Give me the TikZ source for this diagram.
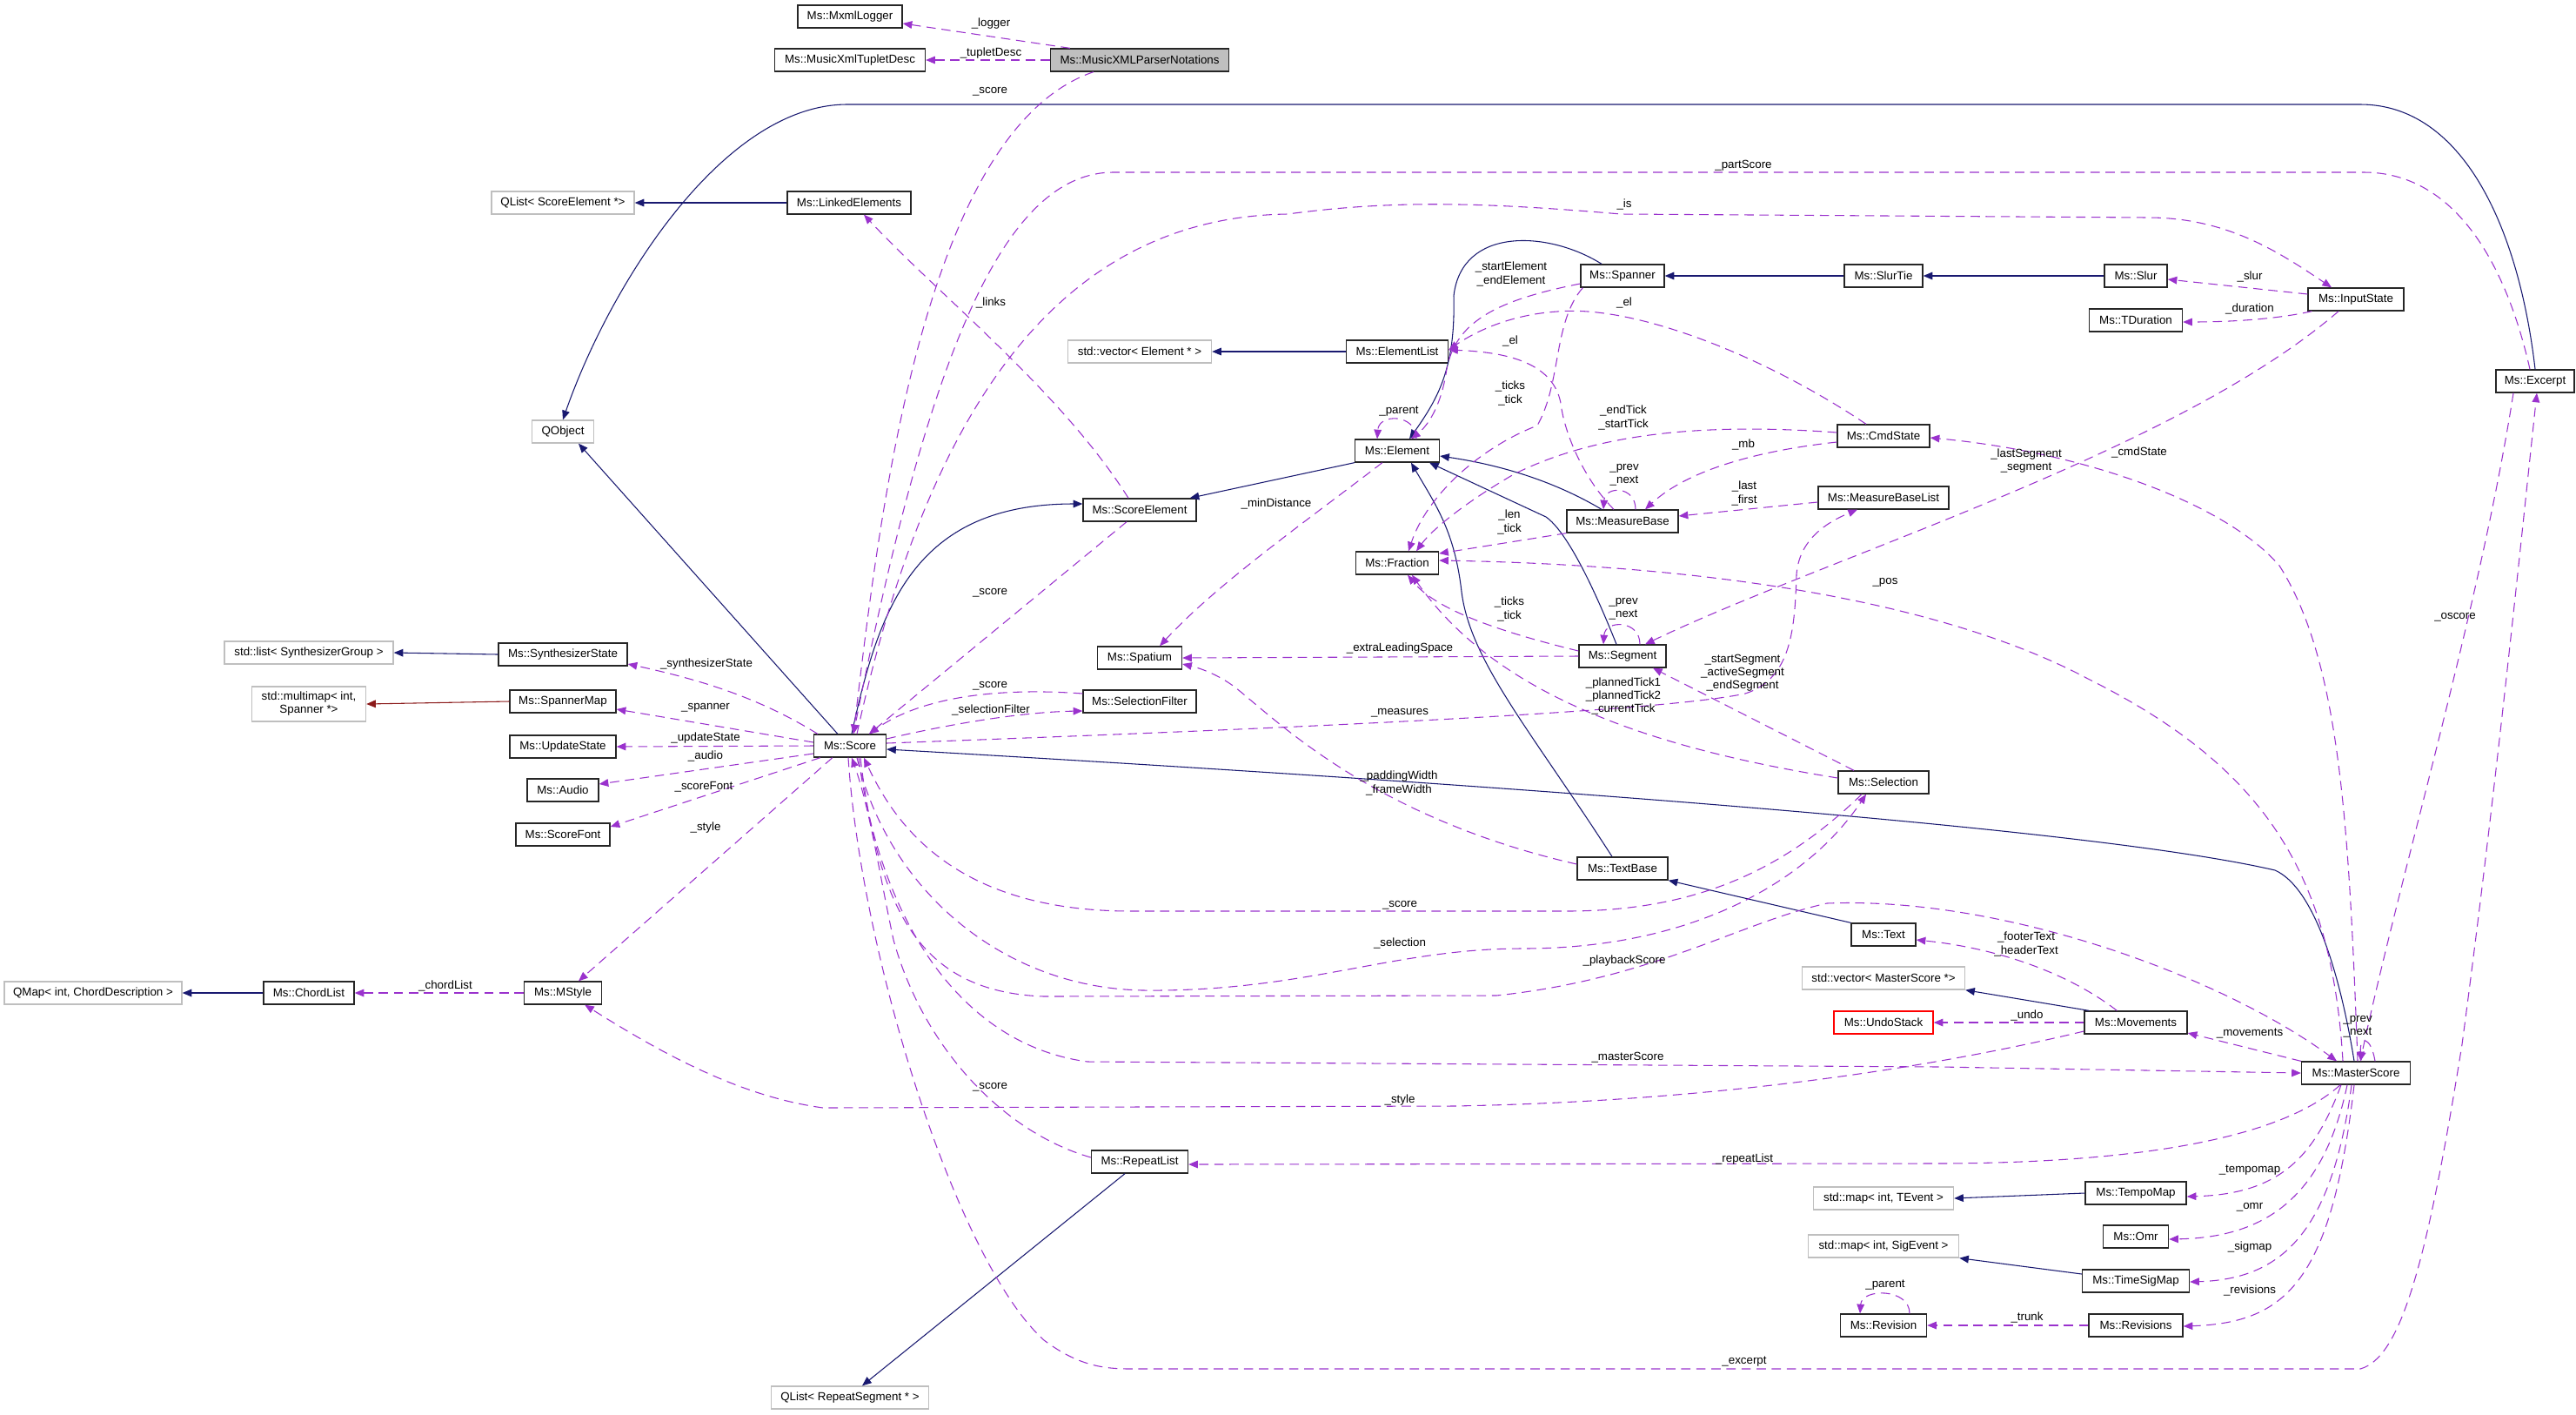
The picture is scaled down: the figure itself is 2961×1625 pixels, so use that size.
\documentclass[tikz,border=0pt]{standalone}
\usepackage{fontspec}
\setmainfont{Liberation Sans}
\usetikzlibrary{arrows.meta,calc}
\definecolor{inhc}{HTML}{191970}
\definecolor{usec}{HTML}{9A32CD}
\definecolor{tmplc}{HTML}{8B1A1A}
\definecolor{grayb}{HTML}{BFBFBF}
\newcommand\dxfont{\fontsize{10pt}{11.3pt}\selectfont}
\tikzset{
  box/.style={draw=black!85, line width=1pt, minimum height=19.5pt, inner sep=0pt, font=\dxfont, fill=white, align=center},
  ext/.style={box, draw=grayb},
  bw/.style={minimum width=#1*0.75pt},
  tipx/.style={-{Triangle[length=8pt,width=6.5pt]}},
  inh/.style={draw=inhc, line width=0.8pt, tipx},
  tmpl/.style={draw=tmplc, line width=0.8pt, tipx},
  use/.style={draw=usec, line width=0.8pt, dash pattern=on 8pt off 5pt, tipx},
  lab/.style={font=\dxfont, align=center, inner sep=0pt},
}
\begin{document}
\begin{tikzpicture}[x=0.75pt,y=-0.75pt]
\useasboundingbox (0,0) rectangle (2961,1625);
% ---------------- nodes ----------------
\node[box,bw=205,fill=grayb] (parser) at (1310,69) {Ms::MusicXMLParserNotations};
\node[box,bw=120] (mxml) at (977,19) {Ms::MxmlLogger};
\node[box,bw=173] (tuplet) at (977,69) {Ms::MusicXmlTupletDesc};
\node[ext,bw=164] (qlistse) at (647,233) {QList< ScoreElement *>};
\node[box,bw=142] (linked) at (976,233) {Ms::LinkedElements};
\node[ext,bw=71] (qobject) at (647,496) {QObject};
\node[ext,bw=165] (vecel) at (1310,404) {std::vector< Element * >};
\node[box,bw=96] (spanner) at (1865,317) {Ms::Spanner};
\node[box,bw=90] (slurtie) at (2165,317) {Ms::SlurTie};
\node[box,bw=72] (slur) at (2455,317) {Ms::Slur};
\node[box,bw=107] (tdur) at (2455,368) {Ms::TDuration};
\node[box,bw=110] (inputst) at (2708,344) {Ms::InputState};
\node[box,bw=90] (excerpt) at (2914,438) {Ms::Excerpt};
\node[box,bw=117] (elist) at (1606,404) {Ms::ElementList};
\node[box,bw=97] (element) at (1606,518) {Ms::Element};
\node[box,bw=106] (cmdstate) at (2165,501) {Ms::CmdState};
\node[box,bw=150] (mblist) at (2165,572) {Ms::MeasureBaseList};
\node[box,bw=128] (mbase) at (1865,599) {Ms::MeasureBase};
\node[box,bw=95] (fraction) at (1606,647) {Ms::Fraction};
\node[box,bw=130] (scoreel) at (1310,586) {Ms::ScoreElement};
\node[box,bw=97] (spatium) at (1310,756) {Ms::Spatium};
\node[box,bw=130] (selfilter) at (1310,806) {Ms::SelectionFilter};
\node[box,bw=100] (segment) at (1865,754) {Ms::Segment};
\node[box,bw=104] (selection) at (2165,899) {Ms::Selection};
\node[box,bw=104] (textbase) at (1865,998) {Ms::TextBase};
\node[box,bw=74] (text) at (2165,1074) {Ms::Text};
\node[box,bw=83] (score) at (977,857) {Ms::Score};
\node[ext,bw=194] (stdlist) at (355,750) {std::list< SynthesizerGroup >};
\node[box,bw=148] (synth) at (647,752) {Ms::SynthesizerState};
\node[ext,bw=131,minimum height=30pt] (multimap) at (355,809) {std::multimap< int,\\ Spanner *>};
\node[box,bw=122] (spmap) at (647,806) {Ms::SpannerMap};
\node[box,bw=122] (updst) at (647,858) {Ms::UpdateState};
\node[box,bw=82] (audio) at (647,908) {Ms::Audio};
\node[box,bw=108] (sfont) at (647,959) {Ms::ScoreFont};
\node[ext,bw=204] (qmap) at (107,1141) {QMap< int, ChordDescription >};
\node[box,bw=104] (chordlist) at (355,1141) {Ms::ChordList};
\node[box,bw=89] (mstyle) at (647,1141) {Ms::MStyle};
\node[ext,bw=187] (vecms) at (2165,1124) {std::vector< MasterScore *>};
\node[box,bw=114,draw=red] (undo) at (2165,1175) {Ms::UndoStack};
\node[box,bw=118] (movements) at (2455,1175) {Ms::Movements};
\node[box,bw=125] (master) at (2708,1233) {Ms::MasterScore};
\node[box,bw=111] (repeatlist) at (1310,1335) {Ms::RepeatList};
\node[ext,bw=181] (qlistrs) at (977,1606) {QList< RepeatSegment * >};
\node[ext,bw=161] (mapte) at (2165,1377) {std::map< int, TEvent >};
\node[box,bw=116] (tempomap) at (2455,1371) {Ms::TempoMap};
\node[box,bw=75] (omr) at (2455,1421) {Ms::Omr};
\node[ext,bw=173] (mapsig) at (2165,1432) {std::map< int, SigEvent >};
\node[box,bw=123] (timesig) at (2455,1472) {Ms::TimeSigMap};
\node[box,bw=99] (revision) at (2165,1523) {Ms::Revision};
\node[box,bw=108] (revisions) at (2455,1523) {Ms::Revisions};
% ---------------- inheritance ----------------
\draw[inh] (excerpt.north) .. controls (2895,260) and (2830,120) .. (2713,120) -- (974,120) .. controls (830,120) and (700,330) .. (qobject.north);
\draw[inh] (linked.west) -- (qlistse.east);
\draw[inh] ($(score.north west)+(28,0)$) -- ($(qobject.south)+(18,0)$);
\draw[inh] ($(score.north)+(2,0)$) .. controls (1010,700) and (1050,579) .. ($(scoreel.west)+(0,-7)$);
\draw[inh] (element.south west) -- ($(scoreel.north east)+(-8,0)$);
\draw[inh] ($(spanner.north)+(-24,0)$) .. controls (1780,265) and (1680,260) .. (1671,340) .. controls (1673,420) and (1655,455) .. ($(element.north)+(14,0)$);
\draw[inh] (slurtie.west) -- (spanner.east);
\draw[inh] (slur.west) -- (slurtie.east);
\draw[inh] (elist.west) -- (vecel.east);
\draw[inh] ($(mbase.north)+(-24,0)$) .. controls (1790,555) and (1730,535) .. ($(element.east)+(0,6)$);
\draw[inh] ($(segment.north)+(-7,0)$) .. controls (1830,670) and (1800,610) .. (1777,594) -- ($(element.south)+(37,0)$);
\draw[inh] ($(textbase.north)+(-12,0)$) .. controls (1760,840) and (1690,760) .. (1680,680) .. controls (1672,610) and (1650,580) .. ($(element.south)+(16,0)$);
\draw[inh] (text.north west) -- (textbase.south east);
\draw[inh] ($(master.north)+(-2,0)$) .. controls (2690,1120) and (2660,1020) .. (2615,1000) .. controls (2400,950) and (1700,900) .. ($(score.east)+(0,4)$);
\draw[inh] ($(movements.north west)+(6,0)$) -- (vecms.south east);
\draw[inh] (tempomap.west) -- (mapte.east);
\draw[inh] ($(timesig.west)+(0,-8)$) -- (mapsig.south east);
\draw[inh] ($(repeatlist.south)+(-17,0)$) -- ($(qlistrs.north)+(14,0)$);
\draw[inh] (synth.west) -- (stdlist.east);
\draw[tmpl] (spmap.west) -- (multimap.east);
\draw[inh] (chordlist.west) -- (qmap.east);
% ---------------- usage ----------------
\draw[use] ($(parser.north west)+(23,0)$) -- ($(mxml.east)+(0,8)$);
\draw[use] (parser.west) -- (tuplet.east);
\draw[use] ($(parser.south west)+(50,0)$) .. controls (1060,150) and (1010,600) .. ($(score.north)+(4,0)$);
\draw[use] ($(excerpt.north)+(-6,0)$) .. controls (2880,300) and (2820,198) .. (2717,198) -- (1280,198) .. controls (1150,198) and (1065,420) .. ($(score.north)+(4,0)$);
\draw[use] ($(score.north)+(8,0)$) .. controls (1060,500) and (1200,250) .. (1480,246) .. controls (1600,230) and (1700,232) .. (1863,246) -- (2469,250) .. controls (2560,250) and (2620,290) .. ($(inputst.north)+(-28,0)$);
\draw[use] ($(scoreel.north)+(-13,0)$) .. controls (1220,450) and (1080,340) .. ($(linked.south)+(17,0)$);
\draw[use] ($(scoreel.south)+(-15,0)$) -- ($(score.north)+(22,0)$);
\draw[use] ($(element.south west)+(32,0)$) .. controls (1500,600) and (1400,670) .. ($(spatium.north)+(23,0)$);
\draw[use] ($(element.north)+(22,0)$) .. controls (1628,475) and (1585,475) .. ($(element.north)+(-23,0)$);
\draw[use] ($(spanner.west)+(0,9)$) .. controls (1720,345) and (1670,370) .. (1662,430) .. controls (1655,470) and (1640,490) .. ($(element.north)+(16,0)$);
\draw[use] ($(spanner.south west)+(3,0)$) .. controls (1785,370) and (1795,440) .. (1767,489) .. controls (1700,515) and (1640,570) .. ($(fraction.north)+(13,0)$);
\draw[use] ($(cmdstate.west)+(0,-4)$) .. controls (1950,485) and (1830,500) .. (1740,545) .. controls (1680,580) and (1645,610) .. ($(fraction.north)+(22,0)$);
\draw[use] ($(cmdstate.north)+(-20,0)$) .. controls (2030,410) and (1880,350) .. (1790,358) .. controls (1730,362) and (1690,385) .. ($(elist.east)+(0,-2)$);
\draw[use] ($(mbase.north)+(-10,0)$) .. controls (1820,550) and (1800,500) .. (1795,470) .. controls (1790,420) and (1740,405) .. ($(elist.east)+(0,-2)$);
\draw[use] ($(cmdstate.west)+(0,7)$) .. controls (2020,518) and (1940,540) .. ($(mbase.north)+(26,0)$);
\draw[use] ($(mbase.north)+(15,0)$) .. controls (1880,558) and (1845,558) .. ($(mbase.north)+(-22,0)$);
\draw[use] ($(mblist.west)+(0,5)$) -- ($(mbase.east)+(0,-6)$);
\draw[use] (mbase.south west) -- ($(fraction.east)+(0,-11)$);
\draw[use] ($(segment.west)+(0,-6)$) .. controls (1720,725) and (1650,700) .. ($(fraction.south)+(12,0)$);
\draw[use] ($(segment.north)+(20,0)$) .. controls (1885,712) and (1845,712) .. ($(segment.north)+(-22,0)$);
\draw[use] ($(inputst.south)+(-20,0)$) .. controls (2500,520) and (2100,640) .. ($(segment.north)+(26,0)$);
\draw[use] ($(master.north)+(2,0)$) .. controls (2700,950) and (2690,760) .. (2620,650) .. controls (2560,580) and (2400,520) .. ($(cmdstate.east)+(0,2)$);
\draw[use] ($(master.north)+(-15,0)$) .. controls (2680,1000) and (2600,880) .. (2400,780) .. controls (2250,700) and (2000,650) .. ($(fraction.east)+(0,-3)$);
\draw[use] ($(inputst.west)+(0,-6)$) -- ($(slur.east)+(0,4)$);
\draw[use] ($(inputst.south west)+(5,0)$) .. controls (2620,366) and (2570,370) .. ($(tdur.east)+(0,2)$);
\draw[use] ($(score.east)+(0,-3)$) .. controls (1400,840) and (1900,820) .. (2006,797) .. controls (2060,780) and (2063,720) .. (2065,660) .. controls (2068,620) and (2100,600) .. ($(mblist.south)+(-30,0)$);
\draw[use] (segment.west) -- (spatium.east);
\draw[use] ($(textbase.west)+(0,-5)$) .. controls (1580,940) and (1470,830) .. (1420,790) .. controls (1400,775) and (1380,768) .. ($(spatium.east)+(0,7)$);
\draw[use] ($(selection.north)+(-34,0)$) -- ($(segment.south)+(35,0)$);
\draw[use] ($(selection.west)+(0,-5)$) .. controls (1900,860) and (1720,800) .. ($(fraction.south)+(17,0)$);
\draw[use] ($(selection.south)+(-25,0)$) .. controls (2050,1000) and (1950,1047) .. (1800,1047) -- (1300,1047) .. controls (1100,1047) and (1030,950) .. ($(score.south)+(16,0)$);
\draw[use] ($(score.south)+(8,0)$) .. controls (1020,1020) and (1150,1135) .. (1314,1138) .. controls (1500,1140) and (1600,1090) .. (1750,1090) .. controls (1950,1090) and (2080,1010) .. ($(selection.south)+(-20,0)$);
\draw[use] ($(score.south)+(-2,0)$) .. controls (990,1100) and (1100,1450) .. (1200,1540) .. controls (1240,1570) and (1270,1573) .. (1300,1573) -- (2713,1573) .. controls (2760,1560) and (2790,1450) .. (2830,1200) .. controls (2870,900) and (2900,600) .. ($(excerpt.south)+(2,0)$);
\draw[use] ($(repeatlist.west)+(0,-5)$) .. controls (1150,1300) and (1060,1200) .. (1027,1080) .. controls (1010,1000) and (1000,930) .. ($(score.south)+(2,0)$);
\draw[use] ($(score.south)+(10,0)$) .. controls (1010,1050) and (1100,1200) .. (1250,1220) -- (2230,1226) -- (master.west);
\draw[use] ($(score.south)+(12,0)$) .. controls (1010,1050) and (1060,1140) .. (1200,1145) -- (1720,1144) .. controls (1900,1125) and (2000,1060) .. (2100,1038) .. controls (2300,1030) and (2550,1120) .. ($(master.north)+(-22,0)$);
\draw[use] ($(movements.west)+(0,10)$) .. controls (2250,1220) and (2000,1265) .. (1671,1271) -- (946,1273) .. controls (850,1260) and (760,1210) .. ($(mstyle.south east)+(-20,0)$);
\draw[use] ($(score.south west)+(22,0)$) -- ($(mstyle.north)+(18,0)$);
\draw[use] ($(master.south)+(-18,0)$) .. controls (2620,1310) and (2450,1337) .. (2220,1337) -- ($(repeatlist.east)+(0,3)$);
\draw[use] ($(master.south)+(-17,0)$) .. controls (2660,1330) and (2620,1372) .. ($(tempomap.east)+(0,4)$);
\draw[use] ($(master.south)+(-10,0)$) .. controls (2670,1380) and (2600,1422) .. ($(omr.east)+(0,3)$);
\draw[use] ($(master.south)+(-5,0)$) .. controls (2680,1420) and (2620,1470) .. ($(timesig.east)+(0,1)$);
\draw[use] ($(master.south)+(-2,0)$) .. controls (2680,1470) and (2630,1520) .. ($(revisions.east)+(0,1)$);
\draw[use] (master.north west) -- ($(movements.east)+(0,12)$);
\draw[use] (movements.west) -- (undo.east);
\draw[use] (revisions.west) -- (revision.east);
\draw[use] ($(revision.north)+(30,0)$) .. controls (2195,1480) and (2140,1480) .. ($(revision.north)+(-27,0)$);
\draw[use] ($(master.north)+(22,0)$) .. controls (2725,1190) and (2712,1190) .. ($(master.north)+(6,0)$);
\draw[use] ($(excerpt.south)+(-25,0)$) .. controls (2850,700) and (2760,1000) .. ($(master.north)+(5,0)$);
\draw[use] ($(movements.north west)+(38,0)$) .. controls (2380,1120) and (2300,1090) .. ($(text.east)+(0,6)$);
\draw[use] ($(score.north west)+(5,0)$) .. controls (870,800) and (800,780) .. ($(synth.east)+(0,11)$);
\draw[use] ($(score.west)+(0,-4)$) -- ($(spmap.east)+(0,9)$);
\draw[use] (score.west) -- (updst.east);
\draw[use] ($(score.west)+(0,9)$) -- ($(audio.east)+(0,-7)$);
\draw[use] ($(score.south west)+(8,0)$) -- ($(sfont.east)+(0,-9)$);
\draw[use] (mstyle.west) -- (chordlist.east);
\draw[use] ($(score.east)+(0,-8)$) .. controls (1100,830) and (1180,818) .. ($(selfilter.west)+(0,11)$);
\draw[use] ($(selfilter.west)+(0,-9)$) .. controls (1150,790) and (1060,800) .. ($(score.north)+(22,0)$);
% ---------------- labels ----------------
\node[lab] (l1) at (1139,27) {\_logger};
\node[lab] (l2) at (1139,61) {\_tupletDesc};
\node[lab] (l3) at (1138,105) {\_score};
\node[lab] (l4) at (2004,190) {\_partScore};
\node[lab] (l5) at (1867,235) {\_is};
\node[lab] (l6) at (1139,348) {\_links};
\node[lab] (l7) at (1737,315) {\_startElement\\\_endElement};
\node[lab] (l8) at (1867,348) {\_el};
\node[lab] (l9) at (1736,392) {\_el};
\node[lab] (l10) at (1736,452) {\_ticks\\\_tick};
\node[lab] (l11) at (1608,473) {\_parent};
\node[lab] (l12) at (1866,480) {\_endTick\\\_startTick};
\node[lab] (l13) at (2004,511) {\_mb};
\node[lab] (l14) at (1867,546) {\_prev\\\_next};
\node[lab] (l15) at (2005,567) {\_last\\\_first};
\node[lab] (l16) at (1735,600) {\_len\\\_tick};
\node[lab] (l17) at (1467,579) {\_minDistance};
\node[lab] (l18) at (2586,318) {\_slur};
\node[lab] (l19) at (2586,355) {\_duration};
\node[lab] (l20) at (2329,530) {\_lastSegment\\\_segment};
\node[lab] (l21) at (2459,520) {\_cmdState};
\node[lab] (l22) at (1138,681) {\_score};
\node[lab] (l23) at (1138,788) {\_score};
\node[lab] (l24) at (1139,816) {\_selectionFilter};
\node[lab] (l25) at (812,763) {\_synthesizerState};
\node[lab] (l26) at (811,813) {\_spanner};
\node[lab] (l27) at (811,848) {\_updateState};
\node[lab] (l28) at (811,869) {\_audio};
\node[lab] (l29) at (809,904) {\_scoreFont};
\node[lab] (l30) at (811,951) {\_style};
\node[lab] (l31) at (2167,669) {\_pos};
\node[lab] (l32) at (1735,700) {\_ticks\\\_tick};
\node[lab] (l33) at (1866,700) {\_prev\\\_next};
\node[lab] (l34) at (1609,745) {\_extraLeadingSpace};
\node[lab] (l35) at (2003,773) {\_startSegment\\\_activeSegment\\\_endSegment};
\node[lab] (l36) at (1866,800) {\_plannedTick1\\\_plannedTick2\\\_currentTick};
\node[lab] (l37) at (1609,819) {\_measures};
\node[lab] (l38) at (1608,900) {\_paddingWidth\\\_frameWidth};
\node[lab] (l39) at (1609,1040) {\_score};
\node[lab] (l40) at (1609,1084) {\_selection};
\node[lab] (l41) at (2822,709) {\_oscore};
\node[lab] (l42) at (2329,1085) {\_footerText\\\_headerText};
\node[lab] (l43) at (512,1133) {\_chordList};
\node[lab] (l44) at (1138,1249) {\_score};
\node[lab] (l45) at (1867,1104) {\_playbackScore};
\node[lab] (l46) at (1871,1215) {\_masterScore};
\node[lab] (l47) at (1609,1264) {\_style};
\node[lab] (l48) at (2005,1332) {\_repeatList};
\node[lab] (l49) at (2167,1477) {\_parent};
\node[lab] (l50) at (2005,1565) {\_excerpt};
\node[lab] (l51) at (2330,1167) {\_undo};
\node[lab] (l52) at (2586,1187) {\_movements};
\node[lab] (l53) at (2710,1180) {\_prev\\\_next};
\node[lab] (l54) at (2586,1345) {\_tempomap};
\node[lab] (l55) at (2586,1387) {\_omr};
\node[lab] (l56) at (2586,1433) {\_sigmap};
\node[lab] (l57) at (2586,1483) {\_revisions};
\node[lab] (l58) at (2330,1514) {\_trunk};
\end{tikzpicture}
\end{document}
